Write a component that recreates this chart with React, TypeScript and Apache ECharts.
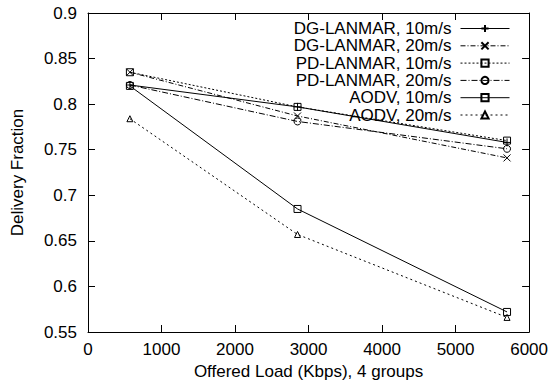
import React, { useEffect, useRef } from "react";
import * as echarts from "echarts";

const loads = [570, 2850, 5700];
const seriesNames = [
  "DG-LANMAR, 10m/s",
  "DG-LANMAR, 20m/s",
  "PD-LANMAR, 10m/s",
  "PD-LANMAR, 20m/s",
  "AODV, 10m/s",
  "AODV, 20m/s",
];
const dgLanmar10 = [0.821, 0.797, 0.758];
const dgLanmar20 = [0.835, 0.787, 0.741];
const pdLanmar10 = [0.835, 0.797, 0.76];
const pdLanmar20 = [0.821, 0.781, 0.751];
const aodv10 = [0.82, 0.685, 0.572];
const aodv20 = [0.784, 0.657, 0.566];
const xTicks = { min: 0, max: 6000, interval: 1000 };
const yTicks = { min: 0.55, max: 0.9, interval: 0.05 };

const FONT = "'Liberation Sans', Arial, Helvetica, sans-serif";
const FS = 17;

const PLUS = "path://M0,4 L8,4 M4,0 L4,8";
const CROSS = "path://M0,0 L8,8 M8,0 L0,8";

export default function App() {
  const ref = useRef<HTMLDivElement>(null);
  useEffect(() => {
    if (!ref.current) return;
    const chart = echarts.init(ref.current, undefined, { renderer: "svg" });
    const values = [dgLanmar10, dgLanmar20, pdLanmar10, pdLanmar20, aodv10, aodv20];
    const styles = [
      { symbol: PLUS, size: 8, dash: "solid" as any },
      { symbol: CROSS, size: 7, dash: [5, 2, 1, 2] },
      { symbol: "rect", size: 7, dash: [2, 2] },
      { symbol: "circle", size: 7, dash: [6, 2, 1, 2] },
      { symbol: "rect", size: 7, dash: "solid" as any },
      { symbol: "triangle", size: 6, dash: [2, 3] },
    ];
    const series = values.map((vals, i) => ({
      name: seriesNames[i],
      type: "line",
      xAxisIndex: 0,
      yAxisIndex: 0,
      data: vals.map((v, j) => [loads[j], v]),
      symbol: styles[i].symbol,
      symbolSize: styles[i].size,
      showAllSymbol: true,
      lineStyle: { color: "#000", width: 1, type: styles[i].dash },
      itemStyle: { color: "none", borderColor: "#000", borderWidth: 1 },
      emphasis: { disabled: true },
    }));
    const axisCommon = {
      axisLine: { show: true, onZero: false, lineStyle: { color: "#000", width: 1 } },
      axisTick: { show: true, inside: true, length: 7, lineStyle: { color: "#000", width: 1 } },
      splitLine: { show: false },
    };
    chart.setOption({
      animation: false,
      backgroundColor: "#fff",
      textStyle: { fontFamily: FONT, color: "#000" },
      grid: { left: 88, right: 20, top: 13, bottom: 55, containLabel: false },
      legend: {
        show: true,
        orient: "vertical",
        align: "right",
        padding: 0,
        right: 41,
        top: 20,
        itemWidth: 49,
        itemHeight: 9,
        itemGap: 0.3,
        lineStyle: { width: 1 },
        textStyle: { fontFamily: FONT, fontSize: FS, color: "#000", lineHeight: 14, padding: [0, 4, 0, 0] },
        data: seriesNames,
      },
      xAxis: [
        {
          type: "value",
          position: "bottom",
          ...xTicks,
          ...axisCommon,
          name: "Offered Load (Kbps), 4 groups",
          nameLocation: "middle",
          nameGap: 31,
          nameTextStyle: { fontFamily: FONT, fontSize: FS, color: "#000" },
          axisLabel: { fontFamily: FONT, fontSize: FS, color: "#000", margin: 9, formatter: (v: number) => String(v) },
        },
        {
          type: "value",
          position: "top",
          ...xTicks,
          ...axisCommon,
          axisLabel: { show: false },
        },
      ],
      yAxis: [
        {
          type: "value",
          position: "left",
          ...yTicks,
          ...axisCommon,
          name: "Delivery Fraction",
          nameLocation: "middle",
          nameGap: 62,
          nameTextStyle: { fontFamily: FONT, fontSize: FS, color: "#000" },
          axisLabel: { fontFamily: FONT, fontSize: FS, color: "#000", margin: 11 },
        },
        {
          type: "value",
          position: "right",
          ...yTicks,
          ...axisCommon,
          axisLabel: { show: false },
        },
      ],
      series,
    });
    return () => chart.dispose();
  }, []);
  return (
    <div
      ref={ref}
      style={{ position: "fixed", left: 0, top: 0, width: 551, height: 387, background: "#fff" }}
    />
  );
}
